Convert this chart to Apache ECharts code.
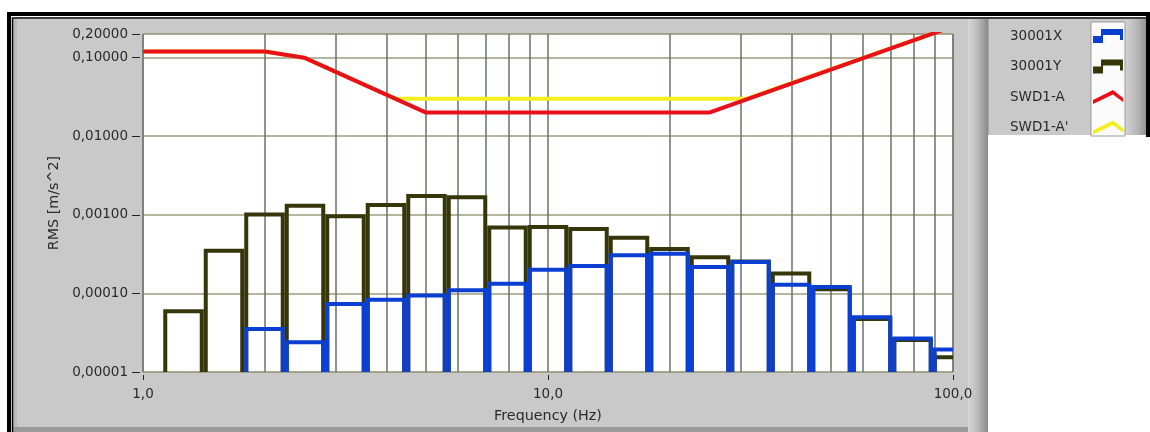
<!DOCTYPE html>
<html>
<head>
<meta charset="utf-8">
<script src="https://cdn.jsdelivr.net/npm/echarts@6/dist/echarts.min.js"></script>
<style>
  html, body { margin: 0; padding: 0; background: #ffffff; }
  #chart { width: 1150px; height: 432px; }
</style>
</head>
<body>
<div id="chart"></div>
<script>
// 1/3-octave band centre frequencies (Hz)
const bandCenters = [1.25, 1.6, 2, 2.5, 3.15, 4, 5, 6.3, 8, 10, 12.5, 16, 20, 25, 31.5, 40, 50, 63, 80, 100];
// Band RMS acceleration (m/s^2), one value per band; null = no data
const rmsX = [null, null, 3.74e-5, 2.53e-5, 7.8e-5, 8.8e-5, 1.0e-4, 1.16e-4, 1.41e-4, 2.12e-4,
              2.37e-4, 3.24e-4, 3.4e-4, 2.3e-4, 2.66e-4, 1.37e-4, 1.28e-4, 5.27e-5, 2.84e-5, 2.05e-5];
const rmsY = [6.3e-5, 3.7e-4, 1.07e-3, 1.38e-3, 1.02e-3, 1.41e-3, 1.84e-3, 1.77e-3, 7.3e-4, 7.4e-4,
              7.0e-4, 5.4e-4, 3.9e-4, 3.05e-4, 2.7e-4, 1.9e-4, 1.2e-4, 5.0e-5, 2.7e-5, 1.63e-5];
// Vibration criterion curves: [frequency (Hz), RMS level (m/s^2)]
const swd1A = [[1, 0.12], [2, 0.12], [2.5, 0.1], [5, 0.02], [25, 0.02], [100, 0.25]];
const swd1APrime = [[1, 0.12], [2, 0.12], [2.5, 0.1], [4.2, 0.03], [31, 0.03], [100, 0.25]];
// Axis label / grid positions
const yTickValues = [0.00001, 0.0001, 0.001, 0.01, 0.1, 0.2];
const xGridValues = [1, 2, 3, 4, 5, 6, 7, 8, 9, 10, 20, 30, 40, 50, 60, 70, 80, 90, 100];

const FONT = 'DejaVu Sans';
const FS = 13.5;
const FS_NAME = 14.3;
const TEXT = '#2a2a2a';
const C_X = '#0b3fd1';
const C_Y = '#36360a';
const C_A = '#e8101a';
const C_A2 = '#f6ee1c';
const BAR_LW = 4;

// Band edges: one third of an octave wide, base-10 spacing
function bandRows(values) {
  const rows = [];
  values.forEach((v, i) => {
    if (v == null) return;
    const e = Math.round(Math.log10(bandCenters[i]) * 10) / 10;
    rows.push([bandCenters[i], v, Math.pow(10, e - 0.05), Math.pow(10, e + 0.05)]);
  });
  return rows;
}

// Each band is an open outline: two verticals running off the bottom of the plot and a top edge
function bandOutline(color) {
  return function (params, api) {
    const v = api.value(1);
    const lo = api.value(2), hi = api.value(3);
    const cs = params.coordSys;
    const p0 = api.coord([lo, v]);
    const p1 = api.coord([hi, v]);
    const h = BAR_LW / 2;
    const bottom = cs.y + cs.height + 10;
    return {
      type: 'polyline',
      shape: { points: [[p0[0] + h, bottom], [p0[0] + h, p0[1] + h], [p1[0] - h, p1[1] + h], [p1[0] - h, bottom]] },
      style: { stroke: color, lineWidth: BAR_LW, fill: null, lineJoin: 'miter' }
    };
  };
}

const barIcon = 'path://M0,7 L8,7 L8,0 L30,0 L30,11 L27,11 L27,6 L10,6 L10,14 L0,14 Z';
const caretIcon = 'path://M0,10 L20,0 L30,8 L30,12 L20,4.5 L0,14 Z';

const chart = echarts.init(document.getElementById('chart'), null, { renderer: 'canvas' });

const grad = (stops) => new echarts.graphic.LinearGradient(0, 0, 1, 0, stops);

chart.setOption({
  backgroundColor: '#ffffff',
  animation: false,
  textStyle: { fontFamily: FONT },
  graphic: {
    elements: [
      // main panel
      { type: 'rect', z: -10, shape: { x: 13, y: 19, width: 955, height: 410 }, style: { fill: '#c9c9c9' } },
      { type: 'rect', z: -10, shape: { x: 13, y: 19, width: 4, height: 410 }, style: { fill: '#b9b9b9' } },
      { type: 'rect', z: -10, shape: { x: 13, y: 427, width: 975, height: 5 }, style: { fill: '#9a9a9a' } },
      { type: 'rect', z: -10, shape: { x: 968, y: 19, width: 20, height: 413 },
        style: { fill: grad([{ offset: 0, color: '#d6d6d6' }, { offset: 0.45, color: '#bdbdbd' }, { offset: 1, color: '#8a8a8a' }]) } },
      // legend panel
      { type: 'rect', z: -10, shape: { x: 987, y: 19, width: 160, height: 116 }, style: { fill: '#c9c9c9' } },
      { type: 'rect', z: -10, shape: { x: 987, y: 19, width: 1.5, height: 116 }, style: { fill: '#8a8a8a' } },
      { type: 'rect', z: -10, shape: { x: 1125, y: 19, width: 22, height: 116 },
        style: { fill: grad([{ offset: 0, color: '#d2d2d2' }, { offset: 0.6, color: '#b4b4b4' }, { offset: 1, color: '#8e8e8e' }]) } },
      { type: 'rect', z: -10, shape: { x: 1091, y: 22, width: 34, height: 114 }, style: { fill: '#fbfbfb', stroke: '#9a9a9a', lineWidth: 1 } },
      // outer double frame (left, top, and right edge beside the legend)
      { type: 'polyline', z: -5, shape: { points: [[9, 440], [9, 14], [1148, 14], [1148, 137]] },
        style: { fill: null, stroke: '#000', lineWidth: 4 } },
      { type: 'polyline', z: -5, shape: { points: [[12.5, 440], [12.5, 18], [1152, 18]] },
        style: { fill: null, stroke: '#000', lineWidth: 1.5 } }
    ]
  },
  grid: {
    left: 143, right: 197, top: 34, bottom: 60,
    show: true, backgroundColor: '#ffffff', borderColor: '#8a8a8a', borderWidth: 1
  },
  legend: {
    orient: 'vertical', left: 1005, top: 24, align: 'right',
    itemWidth: 30, itemHeight: 14, itemGap: 16.5, selectedMode: false,
    formatter: (n) => '{n|' + n + '}',
    textStyle: { rich: { n: { width: 78, align: 'left', fontFamily: FONT, fontSize: FS, color: TEXT, lineHeight: 16 } } },
    data: [
      { name: '30001X', icon: barIcon },
      { name: '30001Y', icon: barIcon },
      { name: 'SWD1-A', icon: caretIcon },
      { name: "SWD1-A'", icon: caretIcon }
    ]
  },
  xAxis: [
    {
      type: 'log', logBase: 10, min: 1, max: 100, position: 'bottom', offset: 3,
      axisLine: { show: false },
      axisTick: { show: true, length: 5, lineStyle: { color: '#222', width: 1 } },
      axisLabel: { margin: 12, showMinLabel: true, showMaxLabel: true, fontFamily: FONT, fontSize: FS, color: TEXT,
                   formatter: (v) => v.toFixed(1).replace('.', ',') },
      splitLine: { show: false },
      name: 'Frequency (Hz)', nameLocation: 'middle', nameGap: 34,
      nameTextStyle: { fontFamily: FONT, fontSize: FS_NAME, color: TEXT }
    },
    {
      type: 'log', logBase: 10, min: 1, max: 100, position: 'bottom',
      axisLine: { show: false }, axisLabel: { show: false },
      axisTick: { show: false, customValues: xGridValues },
      splitLine: { show: true, lineStyle: { color: '#667566', width: 1.5 } }
    }
  ],
  yAxis: {
    type: 'log', logBase: 10, min: 0.00001, max: 0.2, offset: 3,
    axisLine: { show: false },
    axisTick: { show: true, length: 8, customValues: yTickValues, lineStyle: { color: '#222', width: 1 } },
    axisLabel: { customValues: yTickValues, margin: 12, fontFamily: FONT, fontSize: FS, color: TEXT,
                 formatter: (v) => v.toFixed(5).replace('.', ',') },
    splitLine: { show: true, lineStyle: { color: '#9c9c80', width: 1.5 } },
    name: 'RMS [m/s^2]', nameLocation: 'middle', nameGap: 75,
    nameTextStyle: { fontFamily: FONT, fontSize: FS_NAME, color: TEXT }
  },
  series: [
    {
      name: '30001Y', type: 'custom', xAxisIndex: 0, clip: true,
      itemStyle: { color: C_Y }, renderItem: bandOutline(C_Y),
      encode: { x: 0, y: 1 }, data: bandRows(rmsY), z: 3
    },
    {
      name: '30001X', type: 'custom', xAxisIndex: 0, clip: true,
      itemStyle: { color: C_X }, renderItem: bandOutline(C_X),
      encode: { x: 0, y: 1 }, data: bandRows(rmsX), z: 4
    },
    {
      name: "SWD1-A'", type: 'line', xAxisIndex: 0, showSymbol: false, color: C_A2,
      itemStyle: { color: C_A2 }, lineStyle: { color: C_A2, width: 4 }, data: swd1APrime, z: 5
    },
    {
      name: 'SWD1-A', type: 'line', xAxisIndex: 0, showSymbol: false, color: C_A,
      itemStyle: { color: C_A }, lineStyle: { color: C_A, width: 4 }, data: swd1A, z: 6
    }
  ]
});
</script>
</body>
</html>
